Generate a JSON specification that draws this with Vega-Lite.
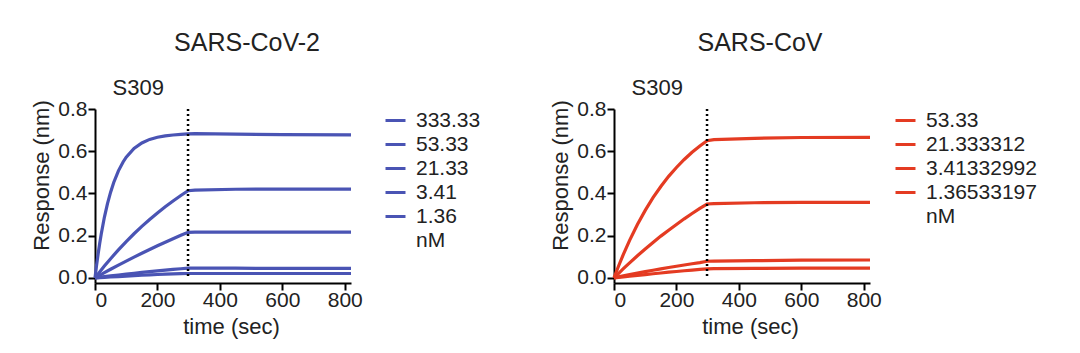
{
  "$schema": "https://vega.github.io/schema/vega-lite/v6.json",
  "padding": {"left": 30, "top": 31, "right": 5, "bottom": 5},
  "background": "white",
  "config": {
    "font": "Liberation Sans",
    "view": {"stroke": null},
    "axis": {"domainColor": "#000", "domainWidth": 2, "tickColor": "#000", "tickWidth": 2, "tickSize": 7, "grid": false, "labelFontSize": 21, "labelColor": "#222", "titleFontSize": 22, "titleFontWeight": "normal", "titleColor": "#222"},
    "legend": {"orient": "right", "offset": 26, "symbolType": "stroke", "symbolSize": 400, "symbolStrokeWidth": 3, "labelFontSize": 21, "labelColor": "#222", "labelOffset": 9, "rowPadding": 2, "padding": 0},
    "title": {"fontSize": 25, "fontWeight": "normal", "color": "#222", "offset": 21},
    "concat": {"spacing": 68}
  },
  "datasets": {
    "cov2": [
      {"t": 0, "v": 0, "c": "333.33"}, {"t": 5, "v": 0.06, "c": "333.33"}, {"t": 10, "v": 0.113, "c": "333.33"}, {"t": 15, "v": 0.163, "c": "333.33"}, {"t": 20, "v": 0.208, "c": "333.33"}, {"t": 30, "v": 0.287, "c": "333.33"}, {"t": 40, "v": 0.352, "c": "333.33"}, {"t": 50, "v": 0.406, "c": "333.33"}, {"t": 60, "v": 0.452, "c": "333.33"}, {"t": 75, "v": 0.507, "c": "333.33"}, {"t": 90, "v": 0.549, "c": "333.33"}, {"t": 100, "v": 0.572, "c": "333.33"}, {"t": 125, "v": 0.613, "c": "333.33"}, {"t": 150, "v": 0.639, "c": "333.33"}, {"t": 175, "v": 0.656, "c": "333.33"}, {"t": 200, "v": 0.666, "c": "333.33"}, {"t": 225, "v": 0.673, "c": "333.33"}, {"t": 250, "v": 0.677, "c": "333.33"}, {"t": 275, "v": 0.68, "c": "333.33"}, {"t": 298, "v": 0.682, "c": "333.33"}, {"t": 320, "v": 0.683, "c": "333.33"}, {"t": 450, "v": 0.681, "c": "333.33"}, {"t": 600, "v": 0.679, "c": "333.33"}, {"t": 820, "v": 0.677, "c": "333.33"},
      {"t": 0, "v": 0, "c": "53.33"}, {"t": 15, "v": 0.0285, "c": "53.33"}, {"t": 30, "v": 0.056, "c": "53.33"}, {"t": 50, "v": 0.0912, "c": "53.33"}, {"t": 75, "v": 0.1329, "c": "53.33"}, {"t": 100, "v": 0.1722, "c": "53.33"}, {"t": 125, "v": 0.2092, "c": "53.33"}, {"t": 150, "v": 0.244, "c": "53.33"}, {"t": 175, "v": 0.277, "c": "53.33"}, {"t": 200, "v": 0.3078, "c": "53.33"}, {"t": 225, "v": 0.337, "c": "53.33"}, {"t": 250, "v": 0.3645, "c": "53.33"}, {"t": 275, "v": 0.3905, "c": "53.33"}, {"t": 298, "v": 0.413, "c": "53.33"}, {"t": 320, "v": 0.416, "c": "53.33"}, {"t": 450, "v": 0.42, "c": "53.33"}, {"t": 600, "v": 0.421, "c": "53.33"}, {"t": 820, "v": 0.421, "c": "53.33"},
      {"t": 0, "v": 0, "c": "21.33"}, {"t": 15, "v": 0.0125, "c": "21.33"}, {"t": 30, "v": 0.0248, "c": "21.33"}, {"t": 50, "v": 0.041, "c": "21.33"}, {"t": 75, "v": 0.0606, "c": "21.33"}, {"t": 100, "v": 0.0799, "c": "21.33"}, {"t": 125, "v": 0.0987, "c": "21.33"}, {"t": 150, "v": 0.117, "c": "21.33"}, {"t": 175, "v": 0.1347, "c": "21.33"}, {"t": 200, "v": 0.1522, "c": "21.33"}, {"t": 225, "v": 0.169, "c": "21.33"}, {"t": 250, "v": 0.1857, "c": "21.33"}, {"t": 275, "v": 0.2018, "c": "21.33"}, {"t": 298, "v": 0.216, "c": "21.33"}, {"t": 320, "v": 0.217, "c": "21.33"}, {"t": 450, "v": 0.217, "c": "21.33"}, {"t": 600, "v": 0.217, "c": "21.33"}, {"t": 820, "v": 0.217, "c": "21.33"},
      {"t": 0, "v": 0, "c": "3.41"}, {"t": 15, "v": 0.003, "c": "3.41"}, {"t": 30, "v": 0.006, "c": "3.41"}, {"t": 50, "v": 0.0095, "c": "3.41"}, {"t": 75, "v": 0.0138, "c": "3.41"}, {"t": 100, "v": 0.018, "c": "3.41"}, {"t": 125, "v": 0.022, "c": "3.41"}, {"t": 150, "v": 0.026, "c": "3.41"}, {"t": 175, "v": 0.0298, "c": "3.41"}, {"t": 200, "v": 0.0335, "c": "3.41"}, {"t": 225, "v": 0.037, "c": "3.41"}, {"t": 250, "v": 0.0405, "c": "3.41"}, {"t": 275, "v": 0.0435, "c": "3.41"}, {"t": 298, "v": 0.046, "c": "3.41"}, {"t": 320, "v": 0.046, "c": "3.41"}, {"t": 450, "v": 0.046, "c": "3.41"}, {"t": 600, "v": 0.045, "c": "3.41"}, {"t": 820, "v": 0.045, "c": "3.41"},
      {"t": 0, "v": 0, "c": "1.36"}, {"t": 15, "v": 0.0013, "c": "1.36"}, {"t": 30, "v": 0.0027, "c": "1.36"}, {"t": 50, "v": 0.0044, "c": "1.36"}, {"t": 75, "v": 0.0065, "c": "1.36"}, {"t": 100, "v": 0.0086, "c": "1.36"}, {"t": 125, "v": 0.0106, "c": "1.36"}, {"t": 150, "v": 0.0126, "c": "1.36"}, {"t": 175, "v": 0.0145, "c": "1.36"}, {"t": 200, "v": 0.0163, "c": "1.36"}, {"t": 225, "v": 0.018, "c": "1.36"}, {"t": 250, "v": 0.0193, "c": "1.36"}, {"t": 275, "v": 0.0203, "c": "1.36"}, {"t": 298, "v": 0.021, "c": "1.36"}, {"t": 320, "v": 0.021, "c": "1.36"}, {"t": 450, "v": 0.021, "c": "1.36"}, {"t": 600, "v": 0.021, "c": "1.36"}, {"t": 820, "v": 0.021, "c": "1.36"}
    ],
    "cov1": [
      {"t": 0, "v": 0, "c": "53.33"}, {"t": 15, "v": 0.0577, "c": "53.33"}, {"t": 30, "v": 0.1117, "c": "53.33"}, {"t": 50, "v": 0.178, "c": "53.33"}, {"t": 75, "v": 0.253, "c": "53.33"}, {"t": 100, "v": 0.32, "c": "53.33"}, {"t": 125, "v": 0.38, "c": "53.33"}, {"t": 150, "v": 0.433, "c": "53.33"}, {"t": 175, "v": 0.481, "c": "53.33"}, {"t": 200, "v": 0.523, "c": "53.33"}, {"t": 225, "v": 0.561, "c": "53.33"}, {"t": 250, "v": 0.595, "c": "53.33"}, {"t": 275, "v": 0.625, "c": "53.33"}, {"t": 298, "v": 0.65, "c": "53.33"}, {"t": 320, "v": 0.655, "c": "53.33"}, {"t": 450, "v": 0.661, "c": "53.33"}, {"t": 600, "v": 0.665, "c": "53.33"}, {"t": 820, "v": 0.666, "c": "53.33"},
      {"t": 0, "v": 0, "c": "21.333312"}, {"t": 15, "v": 0.0221, "c": "21.333312"}, {"t": 30, "v": 0.0436, "c": "21.333312"}, {"t": 50, "v": 0.0715, "c": "21.333312"}, {"t": 75, "v": 0.105, "c": "21.333312"}, {"t": 100, "v": 0.137, "c": "21.333312"}, {"t": 125, "v": 0.168, "c": "21.333312"}, {"t": 150, "v": 0.198, "c": "21.333312"}, {"t": 175, "v": 0.226, "c": "21.333312"}, {"t": 200, "v": 0.253, "c": "21.333312"}, {"t": 225, "v": 0.28, "c": "21.333312"}, {"t": 250, "v": 0.305, "c": "21.333312"}, {"t": 275, "v": 0.329, "c": "21.333312"}, {"t": 298, "v": 0.35, "c": "21.333312"}, {"t": 320, "v": 0.352, "c": "21.333312"}, {"t": 450, "v": 0.356, "c": "21.333312"}, {"t": 600, "v": 0.358, "c": "21.333312"}, {"t": 820, "v": 0.358, "c": "21.333312"},
      {"t": 0, "v": 0, "c": "3.41332992"}, {"t": 15, "v": 0.0048, "c": "3.41332992"}, {"t": 30, "v": 0.0095, "c": "3.41332992"}, {"t": 50, "v": 0.0155, "c": "3.41332992"}, {"t": 75, "v": 0.0228, "c": "3.41332992"}, {"t": 100, "v": 0.0298, "c": "3.41332992"}, {"t": 125, "v": 0.0366, "c": "3.41332992"}, {"t": 150, "v": 0.0432, "c": "3.41332992"}, {"t": 175, "v": 0.0494, "c": "3.41332992"}, {"t": 200, "v": 0.0555, "c": "3.41332992"}, {"t": 225, "v": 0.0614, "c": "3.41332992"}, {"t": 250, "v": 0.067, "c": "3.41332992"}, {"t": 275, "v": 0.0728, "c": "3.41332992"}, {"t": 298, "v": 0.079, "c": "3.41332992"}, {"t": 320, "v": 0.08, "c": "3.41332992"}, {"t": 450, "v": 0.082, "c": "3.41332992"}, {"t": 600, "v": 0.084, "c": "3.41332992"}, {"t": 820, "v": 0.085, "c": "3.41332992"},
      {"t": 0, "v": 0, "c": "1.36533197"}, {"t": 15, "v": 0.0025, "c": "1.36533197"}, {"t": 30, "v": 0.005, "c": "1.36533197"}, {"t": 50, "v": 0.0082, "c": "1.36533197"}, {"t": 75, "v": 0.0121, "c": "1.36533197"}, {"t": 100, "v": 0.016, "c": "1.36533197"}, {"t": 125, "v": 0.0198, "c": "1.36533197"}, {"t": 150, "v": 0.0235, "c": "1.36533197"}, {"t": 175, "v": 0.0271, "c": "1.36533197"}, {"t": 200, "v": 0.0306, "c": "1.36533197"}, {"t": 225, "v": 0.034, "c": "1.36533197"}, {"t": 250, "v": 0.0373, "c": "1.36533197"}, {"t": 275, "v": 0.0403, "c": "1.36533197"}, {"t": 298, "v": 0.043, "c": "1.36533197"}, {"t": 320, "v": 0.044, "c": "1.36533197"}, {"t": 450, "v": 0.045, "c": "1.36533197"}, {"t": 600, "v": 0.046, "c": "1.36533197"}, {"t": 820, "v": 0.046, "c": "1.36533197"}
    ]
  },
  "resolve": {"scale": {"color": "independent"}, "legend": {"color": "independent"}},
  "hconcat": [
    {
      "title": {"text": "SARS-CoV-2", "dx": 24},
      "width": 256,
      "height": 174,
      "layer": [
        {
          "data": {"name": "cov2"},
          "mark": {"type": "line", "strokeWidth": 3.2},
          "encoding": {
            "x": {"field": "t", "type": "quantitative", "scale": {"domain": [0, 820], "nice": false, "zero": false}, "axis": {"values": [0, 200, 400, 600, 800], "title": "time (sec)", "titleX": 136, "labelPadding": -1, "titlePadding": 6}},
            "y": {"field": "v", "type": "quantitative", "scale": {"domain": [-0.024, 0.8], "nice": false, "zero": false}, "axis": {"values": [0, 0.2, 0.4, 0.6, 0.8], "format": ".1f", "title": "Response (nm)", "titleY": 66, "labelPadding": 1, "titlePadding": 4}},
            "color": {"field": "c", "type": "nominal", "scale": {"domain": ["333.33", "53.33", "21.33", "3.41", "1.36", "nM"], "range": ["#4a54b4", "#4a54b4", "#4a54b4", "#4a54b4", "#4a54b4", "transparent"]}, "legend": {"title": null}}
          }
        },
        {
          "data": {"values": [{}]},
          "mark": {"type": "rule", "strokeDash": [2, 3], "strokeWidth": 2.5, "color": "#000"},
          "encoding": {"x": {"datum": 298}, "y": {"datum": 0.8}, "y2": {"datum": -0.005}}
        },
        {
          "data": {"values": [{}]},
          "mark": {"type": "text", "align": "left", "baseline": "alphabetic", "fontSize": 22, "color": "#222"},
          "encoding": {"x": {"datum": 56}, "y": {"datum": 0.866}, "text": {"value": "S309"}}
        }
      ]
    },
    {
      "title": {"text": "SARS-CoV", "dx": 18},
      "width": 256,
      "height": 174,
      "layer": [
        {
          "data": {"name": "cov1"},
          "mark": {"type": "line", "strokeWidth": 3.2},
          "encoding": {
            "x": {"field": "t", "type": "quantitative", "scale": {"domain": [0, 820], "nice": false, "zero": false}, "axis": {"values": [0, 200, 400, 600, 800], "title": "time (sec)", "titleX": 136, "labelPadding": -1, "titlePadding": 6}},
            "y": {"field": "v", "type": "quantitative", "scale": {"domain": [-0.024, 0.8], "nice": false, "zero": false}, "axis": {"values": [0, 0.2, 0.4, 0.6, 0.8], "format": ".1f", "title": "Response (nm)", "titleY": 66, "labelPadding": 1, "titlePadding": 4}},
            "color": {"field": "c", "type": "nominal", "scale": {"domain": ["53.33", "21.333312", "3.41332992", "1.36533197", "nM"], "range": ["#e43b22", "#e43b22", "#e43b22", "#e43b22", "transparent"]}, "legend": {"title": null, "offset": 17}}
          }
        },
        {
          "data": {"values": [{}]},
          "mark": {"type": "rule", "strokeDash": [2, 3], "strokeWidth": 2.5, "color": "#000"},
          "encoding": {"x": {"datum": 298}, "y": {"datum": 0.8}, "y2": {"datum": -0.005}}
        },
        {
          "data": {"values": [{}]},
          "mark": {"type": "text", "align": "left", "baseline": "alphabetic", "fontSize": 22, "color": "#222"},
          "encoding": {"x": {"datum": 56}, "y": {"datum": 0.866}, "text": {"value": "S309"}}
        }
      ]
    }
  ]
}
